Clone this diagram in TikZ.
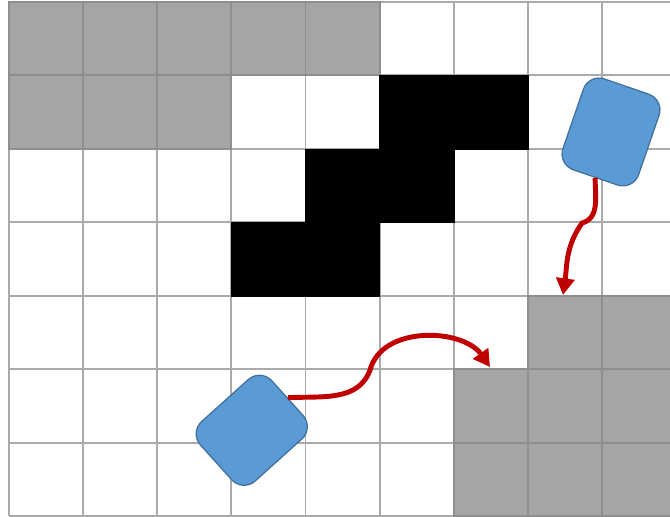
\documentclass[tikz,border=0pt]{standalone}
\usetikzlibrary{arrows.meta}

\definecolor{gridgray}{RGB}{170,170,170}
\definecolor{cellgray}{RGB}{165,165,165}
\definecolor{celledge}{RGB}{142,142,142}
\definecolor{robotblue}{RGB}{91,155,213}
\definecolor{robotedge}{RGB}{65,113,156}
\definecolor{pathred}{RGB}{192,0,0}

\tikzset{
  % Occupancy grid
  gridline/.style = { draw=gridgray, line width=1.6pt },
  busycell/.style = { fill=cellgray, draw=celledge, line width=1.6pt },
  wallcell/.style = { fill=black, draw=black, line width=0.4pt },
  % Robots and planned moves
  robot/.style    = { draw=robotedge, fill=robotblue, line width=1.1pt,
                       rounded corners=0.5cm, minimum width=2.4cm,
                       minimum height=2.88cm, inner sep=0 },
  movepath/.style = { draw=pathred, line width=4.2pt,
                       -{Triangle[length=5mm, width=5.4mm]} }
}

\begin{document}
\begin{tikzpicture}[x=2.22375cm, y=2.2029cm]

  \useasboundingbox (-0.1214,0.0272) rectangle (8.917,-7);
  \clip (-0.1214,0.0272) rectangle (8.917,-7);

  % --- grid ---------------------------------------------------------
  \foreach \c in {0,...,9}
    \draw[gridline] (\c,0) -- (\c,-7);
  \foreach \r in {0,...,7}
    \draw[gridline] (0,-\r) -- (9,-\r);

  % occupied (gray) and wall (black) cells
  \foreach \c/\r in {0/0,1/0,2/0,3/0,4/0,0/1,1/1,2/1,
                     7/4,8/4,6/5,7/5,8/5,6/6,7/6,8/6}
    \draw[busycell] (\c,-\r) rectangle ++(1,-1);
  \foreach \c/\r in {5/1,6/1,4/2,5/2,3/3,4/3}
    \draw[wallcell] (\c,-\r) rectangle ++(1,-1);

  % --- robots -------------------------------------------------------
  \node[robot, rotate=-19] (robotA) at (8.121,-1.770) {};
  \node[robot, rotate=-48] (robotB) at (3.275,-5.832) {};

  % --- planned moves ------------------------------------------------
  \coordinate (bendA) at (7.730,-3.010);
  \coordinate (goalA) at (7.474,-3.990);
  \coordinate (bendB) at (4.870,-5.012);
  \coordinate (goalB) at (6.489,-4.971);

  \draw[movepath] (robotA.south) to[out=-90,in=15] (bendA)
                                 to[out=235,in=82] (goalA);
  \draw[movepath] (robotB.north) to[out=3,in=250] (bendB)
                                 to[out=75,in=125] (goalB);

\end{tikzpicture}
\end{document}
